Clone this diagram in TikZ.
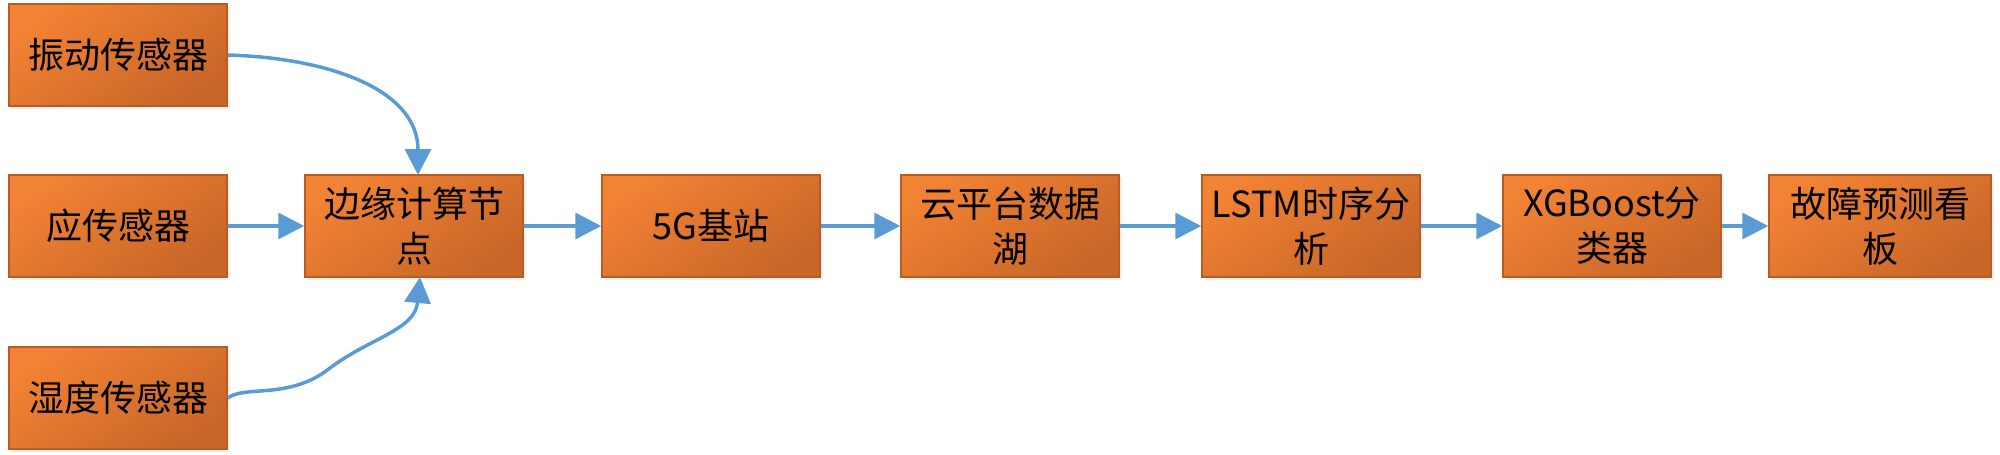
\documentclass[tikz,border=0pt]{standalone}
\usepackage{fontspec}
\setmainfont{Noto Sans CJK SC}
\usetikzlibrary{arrows.meta,shadows}
\definecolor{boxA}{RGB}{242,130,52}
\definecolor{boxB}{RGB}{200,102,40}
\definecolor{boxLine}{RGB}{185,92,35}
\definecolor{arr}{RGB}{91,155,213}
\tikzset{
  stage/.style={draw=boxLine, line width=1.5pt, shading=axis, top color=boxA, bottom color=boxB, shading angle=35,
    minimum width=218pt, minimum height=102pt, inner sep=0pt, align=center,
    font=\fontsize{36}{45}\selectfont, text=black,
    drop shadow={opacity=0.12, shadow xshift=3pt, shadow yshift=-3pt}},
  flow/.style={draw=arr, line width=3.5pt, -{Triangle[length=26pt,width=26pt]}}
}
\begin{document}
\begin{tikzpicture}[x=1pt,y=-1pt]
\useasboundingbox (0,0) rectangle (2000,455);
\node[stage] (s1) at (118,55) {振动传感器};
\node[stage] (s2) at (118,226) {应传感器};
\node[stage] (s3) at (118,398) {湿度传感器};
\node[stage] (edge) at (414,226) {边缘计算节\\点};
\node[stage] (g5) at (711,226) {5G基站};
\node[stage] (cloud) at (1010,226) {云平台数据\\湖};
\node[stage] (lstm) at (1311,226) {LSTM时序分\\析};
\node[stage] (xgb) at (1612,226) {XGBoost分\\类器};
\node[stage, minimum width=222pt] (dash) at (1880,226) {故障预测看\\板};
\coordinate (etop) at (418,175);
\coordinate (ebot) at (420,277);
\draw[flow] (s1.east) .. controls (330,58) and (418,90) .. (etop);
\draw[flow] (s2.east) -- (edge.west);
\draw[flow] (s3.east) .. controls (245,385) and (290,400) .. (330,368)
  .. controls (370,338) and (415,330) .. (ebot);
\draw[flow] (edge) -- (g5);
\draw[flow] (g5) -- (cloud);
\draw[flow] (cloud) -- (lstm);
\draw[flow] (lstm) -- (xgb);
\draw[flow] (xgb) -- (dash);
\end{tikzpicture}
\end{document}
